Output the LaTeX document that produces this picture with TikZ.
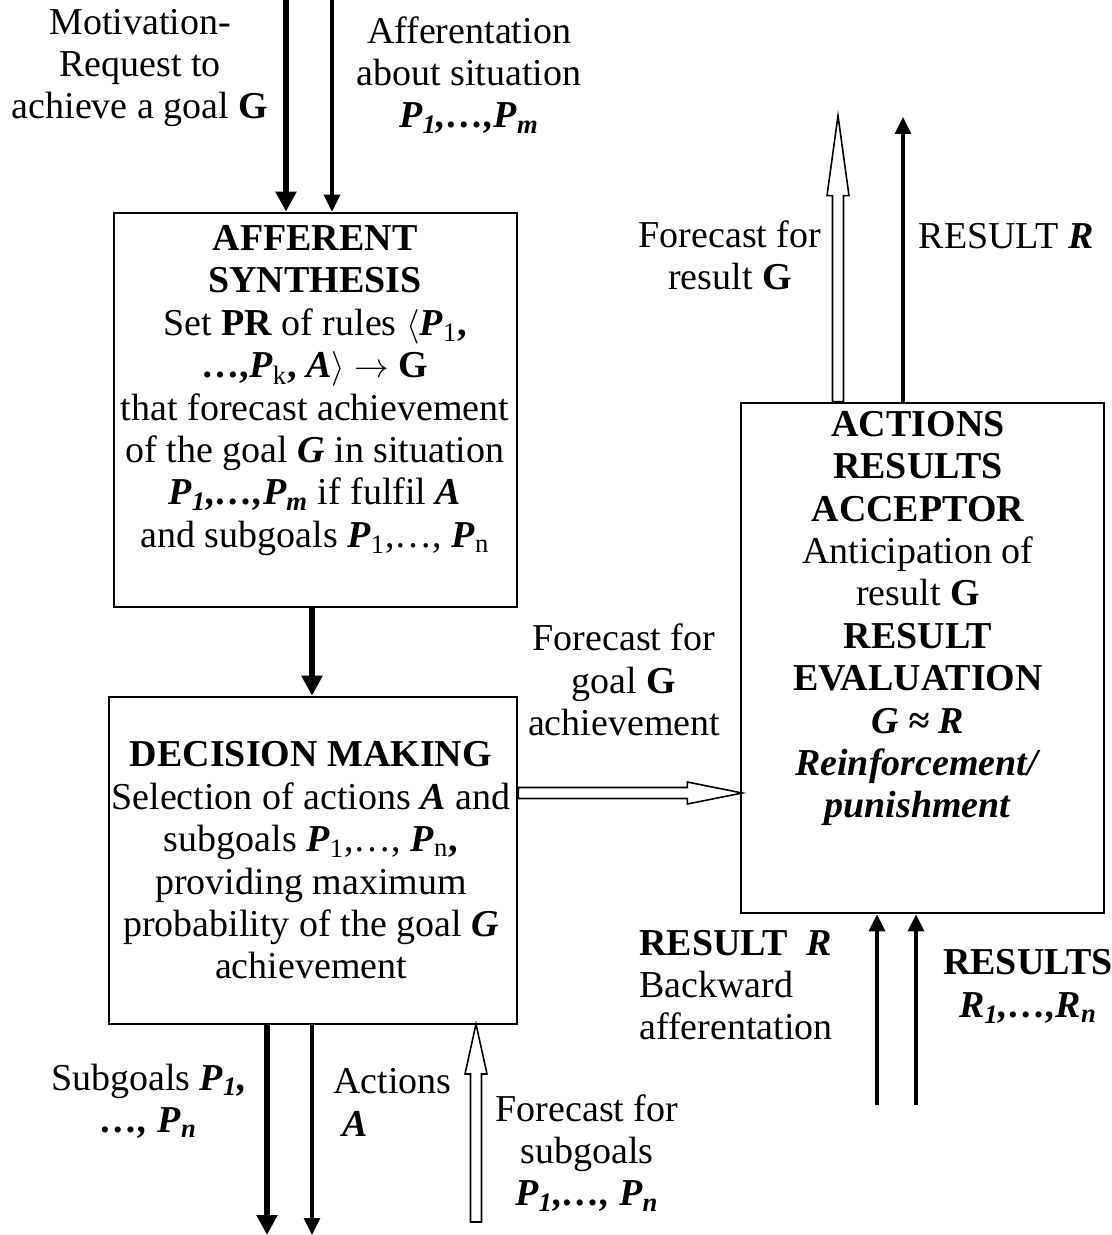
\documentclass[tikz,border=0pt]{standalone}
\usepackage{fontspec}
\setmainfont{Liberation Serif}
\usetikzlibrary{arrows.meta, positioning}

\newcommand{\bi}[1]{\textbf{\textit{#1}}}
% hollow arrow: start, angle, length, head length
\newcommand{\holarrow}[4]{%
  \draw[hollow, shift={(#1)}, rotate=#2] (0,-5.5) -- ({#3-#4},-5.5) -- ({#3-#4},-11)
    -- (#3,0) -- ({#3-#4},11) -- ({#3-#4},5.5) -- (0,5.5) -- cycle;}

\tikzset{
  box/.style={draw, line width=1.3pt, inner sep=0pt},
  txt/.style={align=center, inner sep=0pt, font=\fontsize{19}{21.2}\selectfont},
  heavy/.style={line width=3pt, -{Triangle[length=10pt, width=10pt]}},
  light/.style={line width=1.6pt, -{Triangle[length=8.5pt, width=8pt]}},
  hollow/.style={draw, fill=white, line width=0.8pt}
}

\begin{document}
\begin{tikzpicture}[x=0.5pt, y=-0.5pt]
  \useasboundingbox (0,0) rectangle (1112,1235);

  % boxes
  \node[box, minimum width=201.5pt, minimum height=197pt] (syn) at (315.5,410) {};
  \node[box, minimum width=204pt, minimum height=163.5pt] (dec) at (313,860.5) {};
  \node[box, minimum width=181.5pt, minimum height=255pt] (acc) at (922.5,658) {};

  \node[txt] (syntext) at (315,390.5) {\textbf{AFFERENT}\\ \textbf{SYNTHESIS}\\
    Set \textbf{PR} of rules $\Big\langle$\bi{P}\textsubscript{1}\textbf{,}\\
    \textbf{…,}\bi{P}\textsubscript{k}\textbf{,} \bi{A}$\Big\rangle\rightarrow$ \textbf{G}\\
    that forecast achievement\\ of the goal \bi{G} in situation\\
    \bi{P\textsubscript{1},…,P\textsubscript{m}} if fulfil \bi{A}\\
    and subgoals \bi{P}\textsubscript{1},…, \bi{P}\textsubscript{n}};
  \node[txt] (dectext) at (311,860.5) {\textbf{DECISION MAKING}\\
    Selection of actions \bi{A} and\\ subgoals \bi{P}\textsubscript{1},…, \bi{P}\textsubscript{n}\textbf{,}\\
    providing maximum\\ probability of the goal \bi{G}\\ achievement};
  \node[txt] (acctext) at (918,618.5) {\textbf{ACTIONS}\\ \textbf{RESULTS}\\ \textbf{ACCEPTOR}\\
    Anticipation of\\ result \textbf{G}\\ \textbf{RESULT}\\ \textbf{EVALUATION}\\
    \bi{G ≈ R}\\ \bi{Reinforcement/}\\ \bi{punishment}};

  % labels
  \node[txt] (mot) at (140,68) {Motivation-\\ Request to\\ achieve a goal \textbf{G}};
  \node[txt] (aff) at (469,75) {Afferentation\\ about situation\\ \bi{P\textsubscript{1},…,P\textsubscript{m}}};
  \node[txt] (fgoal) at (624,680) {Forecast for\\ goal \textbf{G}\\ achievement};
  \node[txt] (fres) at (730,255.5) {Forecast for\\ result \textbf{G}};
  \node[txt, anchor=east] (resR) at (1094,236) {RESULT \bi{R}};
  \node[txt, align=left, anchor=west] (back) at (639,985) {\textbf{RESULT \ \bi{R}}\\ Backward\\ afferentation};
  \node[txt] (resn) at (1028,986.5) {\textbf{RESULTS}\\ \bi{R\textsubscript{1},…,R\textsubscript{n}}};
  \node[txt] (subg) at (149,1101) {Subgoals \bi{P\textsubscript{1},}\\ \bi{…, P\textsubscript{n}}};
  \node[txt, align=left, anchor=west] (act) at (333,1102.5) {Actions\\ \ \bi{A}};
  \node[txt] (fsub) at (587,1153) {Forecast for\\ subgoals\\ \bi{P\textsubscript{1},…, P\textsubscript{n}}};

  % free ends
  \coordinate (in1) at (286,0);
  \coordinate (in2) at (332,0);
  \coordinate (out1) at (267,1235);
  \coordinate (out2) at (312,1235);
  \coordinate (up1) at (903,117);
  \coordinate (fb1) at (877,1105);
  \coordinate (fb2) at (916,1105);

  % connectors
  \draw[heavy] (in1) -- (in1 |- syn.north);
  \draw[light] (in2) -- (in2 |- syn.north);
  \draw[heavy] (syn.south -| 312,0) -- (dec.north -| 312,0);
  \draw[heavy] (dec.south -| out1) -- (out1);
  \draw[light] (dec.south -| out2) -- (out2);
  \draw[light] (acc.north -| up1) -- (up1);
  \draw[light] (fb1) -- (fb1 |- acc.south);
  \draw[light] (fb2) -- (fb2 |- acc.south);

  \coordinate (h1) at (dec.east |- 0,793);
  \coordinate (h2) at (acc.north -| 838,0);
  \coordinate (h3) at (476,1222);
  \holarrow{h1}{0}{224}{55}
  \holarrow{h2}{90}{286}{80}
  \holarrow{h3}{90}{198}{50}
\end{tikzpicture}
\end{document}
